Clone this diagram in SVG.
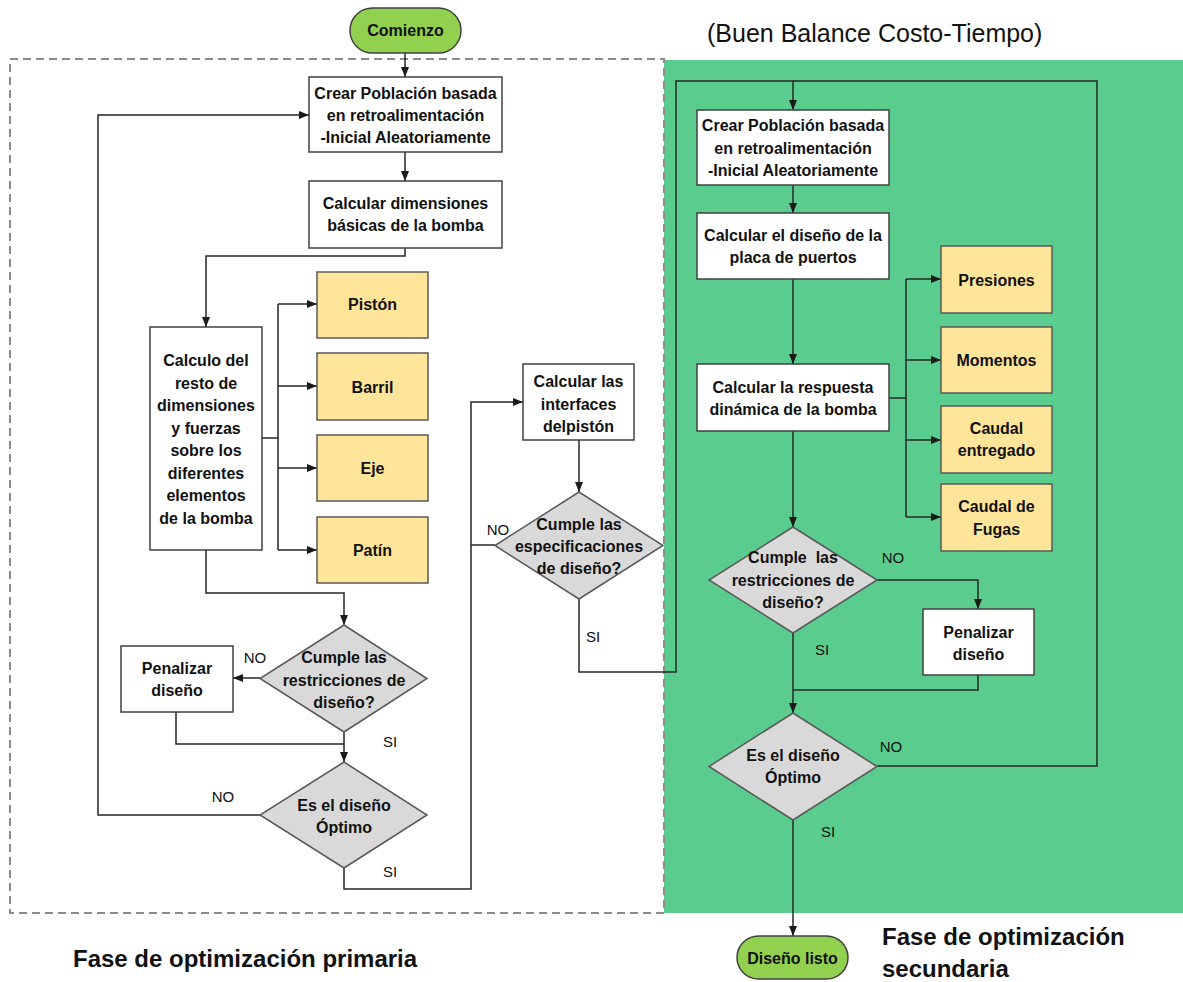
<svg xmlns="http://www.w3.org/2000/svg" width="1183" height="982" viewBox="0 0 1183 982">
<defs>
<marker id="ah" markerWidth="10" markerHeight="8" refX="10" refY="4" orient="auto" markerUnits="userSpaceOnUse">
<path d="M0,0 L10,4 L0,8 z" fill="#1a1a1a"/>
</marker>
<style>
.box{fill:#fff;stroke:#404040;stroke-width:1.5}
.yel{fill:#FFE599;stroke:#595959;stroke-width:1.5}
.dia{fill:#D9D9D9;stroke:#595959;stroke-width:1.5}
.pill{fill:#92D050;stroke:#404040;stroke-width:1.5}
.t{font-family:"Liberation Sans",Arial,sans-serif;font-weight:bold;font-size:16px;fill:#111;text-anchor:middle}
.lb{font-family:"Liberation Sans",Arial,sans-serif;font-size:15px;fill:#111;text-anchor:middle}
.big{font-family:"Liberation Sans",Arial,sans-serif;font-weight:bold;font-size:24px;fill:#111}
.c{fill:none;stroke:#262626;stroke-width:1.5}
.a{marker-end:url(#ah)}
</style>
</defs>
<rect x="0" y="0" width="1183" height="982" fill="#fff"/>
<g id="regions">
<rect x="664" y="60" width="519" height="853" fill="#5ACD8E"/>
<rect x="10" y="59" width="654" height="854" fill="none" stroke="#8c8c8c" stroke-width="2" stroke-dasharray="8 5"/>
</g>
<g id="titles">
<text x="707" y="42" font-family="Liberation Sans, Arial, sans-serif" font-size="25" fill="#111">(Buen Balance Costo-Tiempo)</text>
<text class="big" x="73" y="967">Fase de optimización primaria</text>
<text class="big" x="882" y="945">Fase de optimización</text>
<text class="big" x="882" y="977">secundaria</text>
</g>
<g id="connectors">
<path class="c a" d="M405,53 V77"/>
<path class="c a" d="M405,152 V181"/>
<path class="c a" d="M405,248 V256 H206 V327"/>
<path class="c" d="M262,438 H278 M278,304 V550"/>
<path class="c a" d="M278,304 H317"/>
<path class="c a" d="M278,386 H317"/>
<path class="c a" d="M278,468 H317"/>
<path class="c a" d="M278,550 H317"/>
<path class="c a" d="M206,550 V593 H344 V625"/>
<path class="c a" d="M260,678 H233"/>
<path class="c" d="M176,712 V744 H344"/>
<path class="c a" d="M344,732 V762"/>
<path class="c a" d="M260,815 H98 V115 H309"/>
<path class="c a" d="M344,868 V889 H471 V402 H523"/>
<path class="c" d="M495,545 H471"/>
<path class="c a" d="M579,440 V492"/>
<path class="c a" d="M579,599 V672 H676 V81 H793 V110"/>
<path class="c" d="M877,766 H1097 V81 H793"/>
<path class="c a" d="M793,185 V213"/>
<path class="c a" d="M793,279 V364"/>
<path class="c" d="M889,398 H906 M906,279 V517"/>
<path class="c a" d="M906,279 H941"/>
<path class="c a" d="M906,360 H941"/>
<path class="c a" d="M906,440 H941"/>
<path class="c a" d="M906,517 H941"/>
<path class="c a" d="M793,431 V527"/>
<path class="c a" d="M877,580 H978 V609"/>
<path class="c" d="M978,675 V690 H793"/>
<path class="c a" d="M793,633 V713"/>
<path class="c a" d="M793,820 V936"/>
</g>
<g id="labels">
<text class="lb" x="255" y="663">NO</text>
<text class="lb" x="390" y="747">SI</text>
<text class="lb" x="223" y="802">NO</text>
<text class="lb" x="390" y="877">SI</text>
<text class="lb" x="498" y="535">NO</text>
<text class="lb" x="593" y="642">SI</text>
<text class="lb" x="893" y="563">NO</text>
<text class="lb" x="822" y="655">SI</text>
<text class="lb" x="891" y="752">NO</text>
<text class="lb" x="828" y="837">SI</text>
</g>
<g id="comienzo">
<rect class="pill" x="350" y="8" width="111" height="45" rx="22.5"/>
<text class="t" x="405.5" y="36">Comienzo</text>
</g>
<g id="crear1">
<rect class="box" x="309" y="77" width="193" height="75"/>
<text class="t" x="405.5" y="98.5">Crear Población basada</text>
<text class="t" x="405.5" y="121">en retroalimentación</text>
<text class="t" x="405.5" y="142.5">-Inicial Aleatoriamente</text>
</g>
<g id="dimensiones">
<rect class="box" x="309" y="181" width="193" height="67"/>
<text class="t" x="405.5" y="209">Calcular dimensiones</text>
<text class="t" x="405.5" y="231">básicas de la bomba</text>
</g>
<g id="calculo">
<rect class="box" x="150" y="327" width="112" height="223"/>
<text class="t" x="206" y="365.5">Calculo del</text>
<text class="t" x="206" y="388.5">resto de</text>
<text class="t" x="206" y="411">dimensiones</text>
<text class="t" x="206" y="434">y fuerzas</text>
<text class="t" x="206" y="456">sobre los</text>
<text class="t" x="206" y="478.5">diferentes</text>
<text class="t" x="206" y="501">elementos</text>
<text class="t" x="206" y="523.5">de la bomba</text>
</g>
<g id="piston">
<rect class="yel" x="317" y="272" width="111" height="66"/>
<text class="t" x="372.5" y="310">Pistón</text>
</g>
<g id="barril">
<rect class="yel" x="317" y="353" width="111" height="67"/>
<text class="t" x="372.5" y="392.5">Barril</text>
</g>
<g id="eje">
<rect class="yel" x="317" y="435" width="111" height="66"/>
<text class="t" x="372.5" y="474">Eje</text>
</g>
<g id="patin">
<rect class="yel" x="317" y="517" width="111" height="66"/>
<text class="t" x="372.5" y="556">Patín</text>
</g>
<g id="restricciones1">
<polygon class="dia" points="344,625 427,678.5 344,732 260,678.5"/>
<text class="t" x="344" y="662.5">Cumple las</text>
<text class="t" x="344" y="686">restricciones de</text>
<text class="t" x="344" y="707.5">diseño?</text>
</g>
<g id="penalizar1">
<rect class="box" x="121" y="646" width="112" height="66"/>
<text class="t" x="177" y="674">Penalizar</text>
<text class="t" x="177" y="696">diseño</text>
</g>
<g id="optimo1">
<polygon class="dia" points="344,762 427,815 344,868 260,815"/>
<text class="t" x="344" y="811">Es el diseño</text>
<text class="t" x="344" y="832.5">Óptimo</text>
</g>
<g id="interfaces">
<rect class="box" x="523" y="364" width="111" height="76"/>
<text class="t" x="578.5" y="387">Calcular las</text>
<text class="t" x="578.5" y="409.5">interfaces</text>
<text class="t" x="578.5" y="432">delpistón</text>
</g>
<g id="especificaciones">
<polygon class="dia" points="579,492 663,545.5 579,599 495,545.5"/>
<text class="t" x="579" y="530">Cumple las</text>
<text class="t" x="579" y="551.5">especificaciones</text>
<text class="t" x="579" y="573.5">de diseño?</text>
</g>
<g id="crear2">
<rect class="box" x="697" y="110" width="192" height="75"/>
<text class="t" x="793" y="131">Crear Población basada</text>
<text class="t" x="793" y="153.5">en retroalimentación</text>
<text class="t" x="793" y="176">-Inicial Aleatoriamente</text>
</g>
<g id="placa">
<rect class="box" x="697" y="213" width="192" height="66"/>
<text class="t" x="793" y="241">Calcular el diseño de la</text>
<text class="t" x="793" y="263">placa de puertos</text>
</g>
<g id="respuesta">
<rect class="box" x="697" y="364" width="192" height="67"/>
<text class="t" x="793" y="392.5">Calcular la respuesta</text>
<text class="t" x="793" y="415">dinámica de la bomba</text>
</g>
<g id="presiones">
<rect class="yel" x="941" y="246" width="111" height="67"/>
<text class="t" x="996.5" y="285.5">Presiones</text>
</g>
<g id="momentos">
<rect class="yel" x="941" y="327" width="111" height="66"/>
<text class="t" x="996.5" y="365.5">Momentos</text>
</g>
<g id="caudal-entregado">
<rect class="yel" x="941" y="406" width="111" height="67"/>
<text class="t" x="996.5" y="433.5">Caudal</text>
<text class="t" x="996.5" y="456">entregado</text>
</g>
<g id="caudal-fugas">
<rect class="yel" x="941" y="484" width="111" height="67"/>
<text class="t" x="996.5" y="511.5">Caudal de</text>
<text class="t" x="996.5" y="535">Fugas</text>
</g>
<g id="restricciones2">
<polygon class="dia" points="793,527 877,580 793,633 709,580"/>
<text class="t" x="793" y="563" style="white-space:pre">Cumple  las</text>
<text class="t" x="793" y="586">restricciones de</text>
<text class="t" x="793" y="607.5">diseño?</text>
</g>
<g id="penalizar2">
<rect class="box" x="923" y="609" width="111" height="66"/>
<text class="t" x="978.5" y="637.5">Penalizar</text>
<text class="t" x="978.5" y="660">diseño</text>
</g>
<g id="optimo2">
<polygon class="dia" points="793,713 877,766.5 793,820 709,766.5"/>
<text class="t" x="793" y="761">Es el diseño</text>
<text class="t" x="793" y="783">Óptimo</text>
</g>
<g id="disenolisto">
<rect class="pill" x="737" y="936" width="111" height="43" rx="21.5"/>
<text class="t" x="792.5" y="964">Diseño listo</text>
</g>
</svg>
